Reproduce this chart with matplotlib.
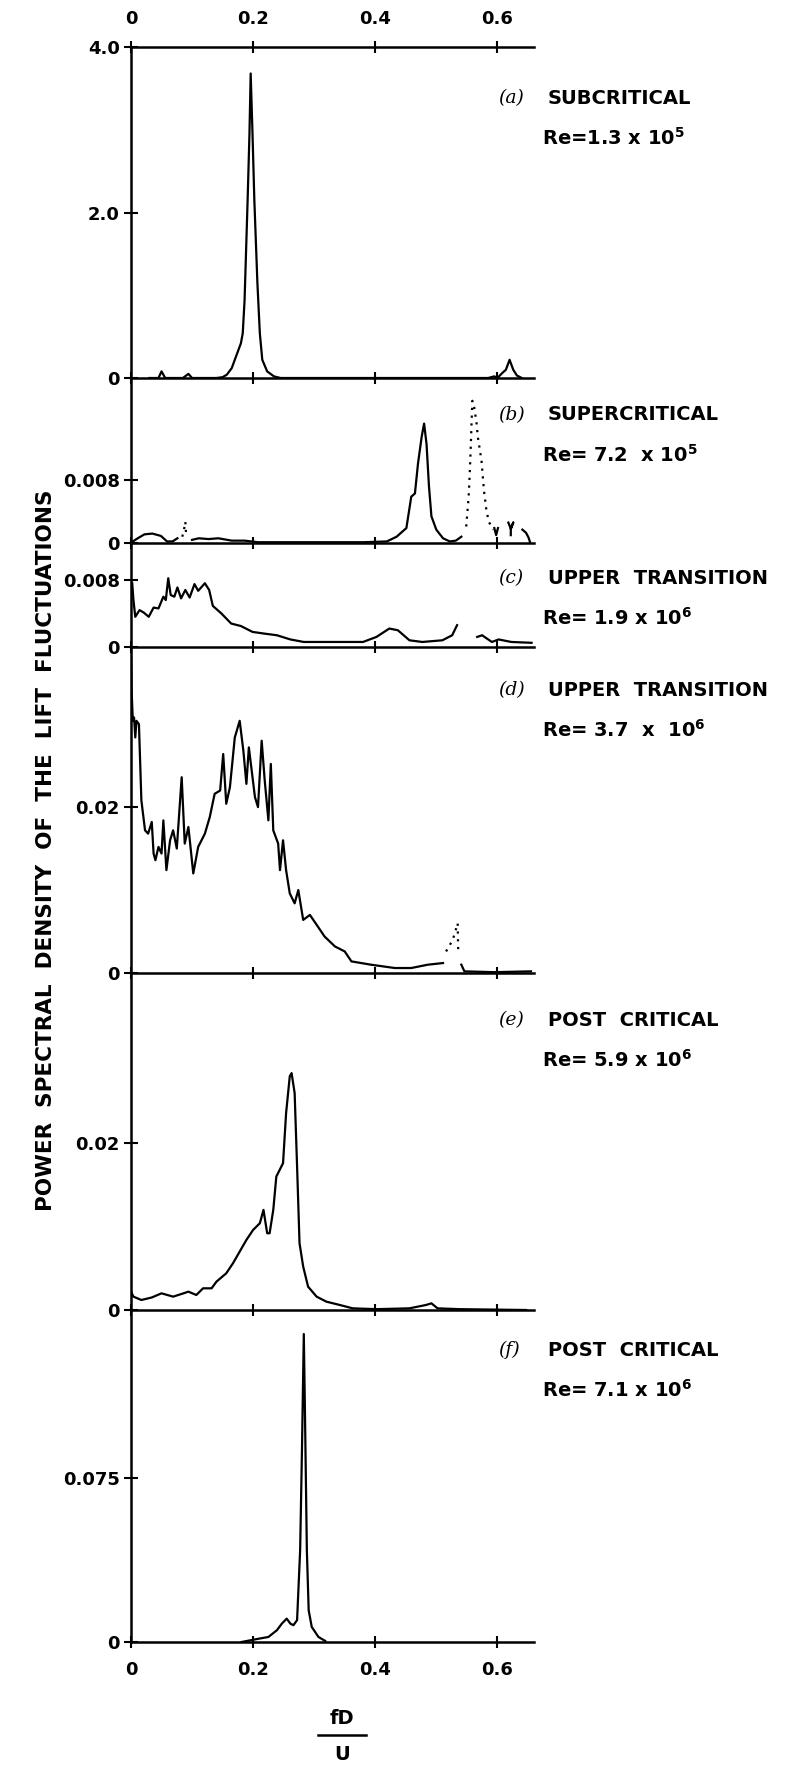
import matplotlib
matplotlib.use("Agg")
import matplotlib.pyplot as plt
from matplotlib.lines import Line2D

plt.rcParams['font.family'] = ['DejaVu Sans']
plt.rcParams['font.weight'] = 'bold'
plt.rcParams['mathtext.fontset'] = 'dejavusans'

# (a) subcritical
a_x = [0.030, 0.045, 0.050, 0.056, 0.085, 0.094, 0.100, 0.140,
       0.150, 0.157, 0.165, 0.172, 0.180, 0.183, 0.186, 0.191, 0.194, 0.196,
       0.199, 0.202, 0.207, 0.211, 0.215, 0.223, 0.234, 0.245,
       0.450, 0.585, 0.595, 0.600, 0.608, 0.614, 0.620, 0.626, 0.632, 0.640]
a_y = [0.00, 0.00, 0.08, 0.00, 0.00, 0.05, 0.00, 0.00,
       0.01, 0.04, 0.12, 0.26, 0.42, 0.54, 0.94, 2.15, 2.95, 3.68,
       2.95, 2.15, 1.15, 0.54, 0.22, 0.08, 0.02, 0.00,
       0.00, 0.00, 0.02, 0.00, 0.06, 0.10, 0.22, 0.10, 0.03, 0.00]

# (b) supercritical
b1_x = [0.003, 0.011, 0.022, 0.035, 0.049, 0.059, 0.068, 0.076]
b1_y = [0.0002, 0.0006, 0.0011, 0.0012, 0.0009, 0.0002, 0.0002, 0.0006]
b_dot1_x = [0.084, 0.087, 0.089, 0.090]
b_dot1_y = [0.0008, 0.0018, 0.0027, 0.0014]
b2_x = [0.100, 0.111, 0.127, 0.143, 0.165, 0.186, 0.208, 0.273, 0.381, 0.419,
        0.435, 0.451, 0.459, 0.465, 0.470, 0.476, 0.480, 0.484, 0.488, 0.492,
        0.500, 0.511, 0.522, 0.532, 0.541]
b2_y = [0.0004, 0.0006, 0.0005, 0.0006, 0.0003, 0.0003, 0.0001, 0.0001, 0.0001, 0.0002,
        0.0008, 0.0019, 0.0059, 0.0063, 0.0101, 0.0135, 0.0152, 0.0126, 0.0072, 0.0034,
        0.0017, 0.0006, 0.0002, 0.0003, 0.0008]
b_dot2_x = [0.549, 0.553, 0.555, 0.557, 0.559, 0.562, 0.566, 0.568, 0.574, 0.578,
            0.582, 0.586, 0.593]
b_dot2_y = [0.0021, 0.0059, 0.0093, 0.0135, 0.0181, 0.0173, 0.0152, 0.0135, 0.0105, 0.0067,
            0.0042, 0.0027, 0.0017]
b3_x = [0.595, 0.598, 0.601]
b3_y = [0.0019, 0.0010, 0.0019]
b4_x = [0.618, 0.622, 0.626, 0.622, 0.622]
b4_y = [0.0026, 0.0018, 0.0026, 0.0018, 0.0010]
b5_x = [0.641, 0.647, 0.651, 0.654]
b5_y = [0.0017, 0.0013, 0.0007, 0.0000]

# (c) upper transition, Re = 1.9e6
c1_x = [0.002, 0.004, 0.007, 0.014, 0.021, 0.029, 0.037, 0.045, 0.053, 0.057,
        0.061, 0.065, 0.071, 0.076, 0.082, 0.089, 0.096, 0.104, 0.110, 0.121,
        0.128, 0.134, 0.148, 0.164, 0.180, 0.199, 0.218, 0.239, 0.261, 0.283,
        0.326, 0.380, 0.402, 0.423, 0.437, 0.456, 0.477, 0.510, 0.526, 0.534]
c1_y = [0.0076, 0.0056, 0.0036, 0.0044, 0.0041, 0.0036, 0.0047, 0.0046, 0.0060, 0.0056,
        0.0082, 0.0062, 0.0060, 0.0071, 0.0058, 0.0068, 0.0059, 0.0075, 0.0067, 0.0076,
        0.0068, 0.0049, 0.0040, 0.0028, 0.0025, 0.0018, 0.0016, 0.0014, 0.0009, 0.0006,
        0.0006, 0.0006, 0.0012, 0.0022, 0.0020, 0.0008, 0.0006, 0.0008, 0.0014, 0.0026]
c2_x = [0.567, 0.575, 0.583, 0.591, 0.602, 0.623, 0.656]
c2_y = [0.0012, 0.0014, 0.0010, 0.0006, 0.0009, 0.0006, 0.0005]

# (d) upper transition, Re = 3.7e6
d1_x = [0.000, 0.001, 0.003, 0.005, 0.007, 0.009, 0.013, 0.017, 0.023, 0.028,
        0.034, 0.037, 0.040, 0.045, 0.050, 0.053, 0.058, 0.064, 0.069, 0.075,
        0.083, 0.088, 0.094, 0.102, 0.110, 0.121, 0.129, 0.137, 0.146, 0.151,
        0.156, 0.162, 0.170, 0.178, 0.184, 0.189, 0.193, 0.197, 0.203, 0.208,
        0.214, 0.219, 0.225, 0.229, 0.233, 0.241, 0.244, 0.249, 0.254, 0.260,
        0.268, 0.274, 0.282, 0.293, 0.306, 0.317, 0.334, 0.350, 0.361, 0.377,
        0.393, 0.432, 0.459, 0.486, 0.511]
d1_y = [0.0392, 0.0340, 0.0304, 0.0308, 0.0284, 0.0304, 0.0300, 0.0208, 0.0172, 0.0168,
        0.0182, 0.0144, 0.0136, 0.0152, 0.0144, 0.0184, 0.0124, 0.0160, 0.0172, 0.0150,
        0.0236, 0.0156, 0.0176, 0.0120, 0.0152, 0.0168, 0.0188, 0.0216, 0.0220, 0.0264,
        0.0204, 0.0224, 0.0284, 0.0304, 0.0268, 0.0228, 0.0272, 0.0248, 0.0212, 0.0200,
        0.0280, 0.0232, 0.0184, 0.0252, 0.0172, 0.0156, 0.0124, 0.0160, 0.0124, 0.0096,
        0.0084, 0.0100, 0.0064, 0.0070, 0.0056, 0.0044, 0.0032, 0.0026, 0.0014, 0.0012,
        0.0010, 0.0006, 0.0006, 0.0010, 0.0012]
d_dot_x = [0.516, 0.527, 0.535, 0.536]
d_dot_y = [0.0026, 0.0040, 0.0060, 0.0022]
d2_x = [0.541, 0.546, 0.595, 0.655]
d2_y = [0.0010, 0.0002, 0.0001, 0.0002]

# (e) post critical, Re = 5.9e6
e_x = [0.000, 0.004, 0.017, 0.034, 0.050, 0.069, 0.086, 0.094, 0.107, 0.118,
       0.132, 0.140, 0.156, 0.167, 0.178, 0.189, 0.200, 0.211, 0.217, 0.223,
       0.227, 0.233, 0.238, 0.249, 0.254, 0.260, 0.263, 0.268, 0.272, 0.276,
       0.282, 0.290, 0.304, 0.320, 0.342, 0.363, 0.402, 0.456, 0.483, 0.492,
       0.502, 0.538, 0.647]
e_y = [0.0022, 0.0016, 0.0012, 0.0015, 0.0020, 0.0016, 0.0020, 0.0022, 0.0018, 0.0026,
       0.0026, 0.0034, 0.0044, 0.0056, 0.0070, 0.0084, 0.0096, 0.0104, 0.0120, 0.0092,
       0.0092, 0.0120, 0.0160, 0.0176, 0.0236, 0.0280, 0.0284, 0.0260, 0.0172, 0.0080,
       0.0052, 0.0028, 0.0016, 0.0010, 0.0006, 0.0002, 0.0001, 0.0002, 0.0006, 0.0008,
       0.0002, 0.0001, 0.0000]

# (f) post critical, Re = 7.1e6
f_x = [0.181, 0.209, 0.225, 0.239, 0.247, 0.255, 0.261, 0.266, 0.272, 0.277,
       0.280, 0.283, 0.285, 0.288, 0.291, 0.296, 0.307, 0.318]
f_y = [0.0000, 0.0015, 0.0023, 0.0054, 0.0084, 0.0107, 0.0084, 0.0077, 0.0100, 0.0420,
       0.0880, 0.1410, 0.1030, 0.0420, 0.0145, 0.0069, 0.0023, 0.0005]

panel_tops = [4.0, 0.021, 0.0124, 0.0393, 0.0404, 0.152]
ytick_vals = [[0, 2.0, 4.0], [0, 0.008], [0, 0.008], [0, 0.02], [0, 0.02], [0, 0.075]]
ytick_labels = [['0', '2.0', '4.0'], ['0', '0.008'], ['0', '0.008'],
                ['0', '0.02'], ['0', '0.02'], ['0', '0.075']]
xtick_vals = [0, 0.2, 0.4, 0.6]
xtick_labels = ['0', '0.2', '0.4', '0.6']
letters = ['a', 'b', 'c', 'd', 'e', 'f']
regimes = ['SUBCRITICAL', 'SUPERCRITICAL', 'UPPER  TRANSITION', 'UPPER  TRANSITION',
           'POST  CRITICAL', 'POST  CRITICAL']
reynolds = ['Re=1.3 x 10$^{\\mathbf{5}}$', 'Re= 7.2  x 10$^{\\mathbf{5}}$',
            'Re= 1.9 x 10$^{\\mathbf{6}}$', 'Re= 3.7  x  10$^{\\mathbf{6}}$',
            'Re= 5.9 x 10$^{\\mathbf{6}}$', 'Re= 7.1 x 10$^{\\mathbf{6}}$']

W, H = 795, 1766
fig = plt.figure(figsize=(W / 100, H / 100), dpi=100)

left_px, right_px = 131, 534
edges = [47, 378, 543, 647, 973, 1310, 1642]
label_y = [98, 415, 578, 690, 1020, 1350]

lw_ax = 1.8
lw = 1.6
axes = []
for i in range(6):
    top, bot = edges[i], edges[i + 1]
    ax = fig.add_axes([left_px / W, 1 - bot / H, (right_px - left_px) / W, (bot - top) / H])
    ax.set_facecolor('none')
    ax.set_xlim(0, 0.66)
    ax.set_ylim(0, panel_tops[i])
    ax.spines['right'].set_visible(False)
    ax.spines['top'].set_visible(i == 0)
    for s in ['left', 'bottom', 'top']:
        ax.spines[s].set_linewidth(lw_ax)
    ax.set_yticks(ytick_vals[i])
    ax.set_yticklabels(ytick_labels[i])
    ax.set_xticks(xtick_vals)
    ax.tick_params(axis='both', direction='inout', length=10, width=1.5,
                   labelsize=13, pad=3)
    ax.tick_params(axis='x', length=9, pad=9)
    if i == 0:
        ax.xaxis.set_ticks_position('both')
        ax.tick_params(axis='x', labeltop=True, labelbottom=False)
        ax.set_xticklabels(xtick_labels)
    elif i == 5:
        ax.set_xticklabels(xtick_labels)
    else:
        ax.tick_params(axis='x', labelbottom=False)
    axes.append(ax)

    # panel annotations
    yc = label_y[i]
    fig.text(498 / W, 1 - yc / H, '(' + letters[i] + ')', family='DejaVu Serif',
             style='italic', weight='normal', fontsize=13.5, va='center', ha='left')
    fig.text(548 / W, 1 - yc / H, regimes[i], fontsize=14, va='center', ha='left')
    fig.text(542 / W, 1 - (yc + 40) / H, reynolds[i], fontsize=14, va='center', ha='left')

ka = dict(color='black', lw=lw, solid_joinstyle='round')
kd = dict(color='black', lw=1.6, ls=(0, (1, 2.5)))

axes[0].plot(a_x, a_y, **ka)
axes[1].plot(b1_x, b1_y, **ka)
axes[1].plot(b_dot1_x, b_dot1_y, **kd)
axes[1].plot(b2_x, b2_y, **ka)
axes[1].plot(b_dot2_x, b_dot2_y, **kd)
axes[1].plot(b3_x, b3_y, **ka)
axes[1].plot(b4_x, b4_y, **ka)
axes[1].plot(b5_x, b5_y, **ka)
axes[2].plot(c1_x, c1_y, **ka)
axes[2].plot(c2_x, c2_y, **ka)
axes[3].plot(d1_x, d1_y, **ka)
axes[3].plot(d_dot_x, d_dot_y, **kd)
axes[3].plot(d2_x, d2_y, **ka)
axes[4].plot(e_x, e_y, **ka)
axes[5].plot(f_x, f_y, **ka)

# y axis title
fig.text(46 / W, 1 - 850 / H, 'POWER  SPECTRAL  DENSITY  OF  THE  LIFT  FLUCTUATIONS',
         rotation=90, fontsize=15.5, va='center', ha='center')

# fD / U
fig.text(342 / W, 1 - 1718 / H, 'fD', fontsize=14, ha='center', va='center')
fig.add_artist(Line2D([318 / W, 366 / W], [1 - 1735 / H, 1 - 1735 / H],
                      color='black', lw=1.8))
fig.text(342 / W, 1 - 1754 / H, 'U', fontsize=14, ha='center', va='center')

fig.savefig('out.png', dpi=100)
